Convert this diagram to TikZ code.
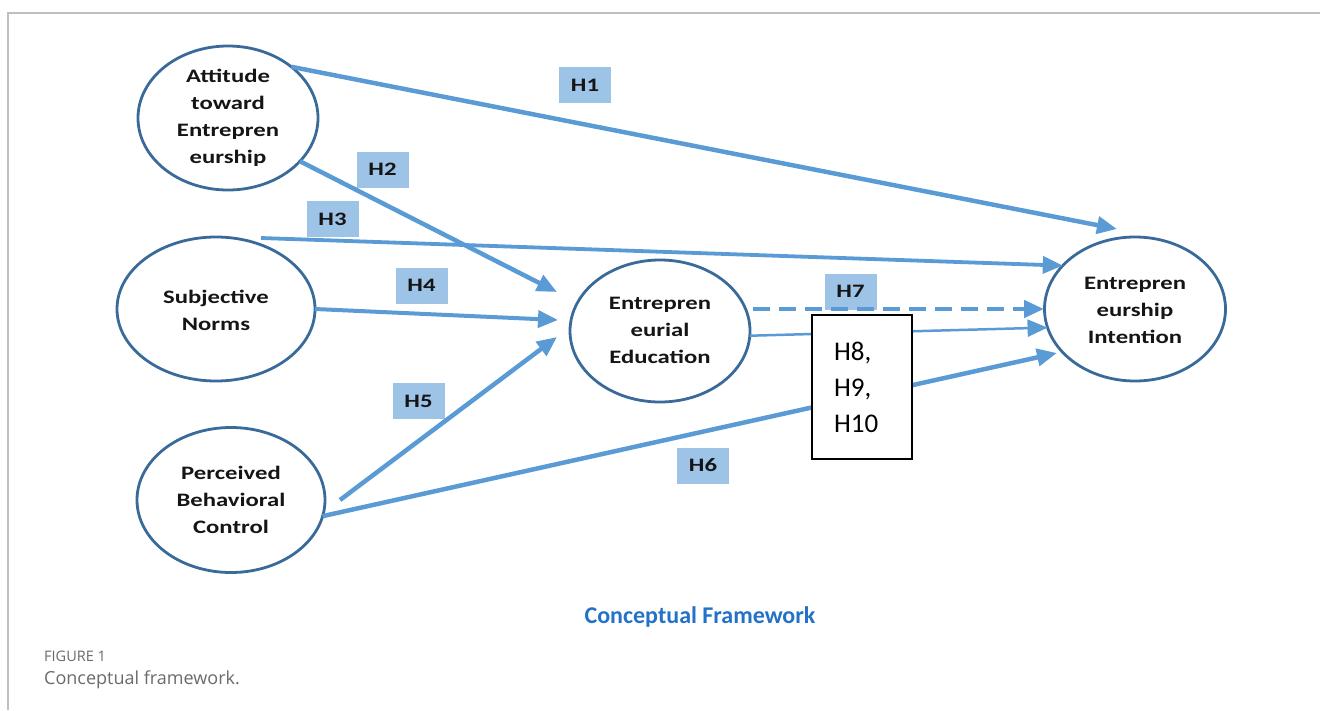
\documentclass[tikz,border=0pt]{standalone}
\usepackage{fontspec}
\usetikzlibrary{arrows.meta,shapes.geometric}
\newfontfamily\calS[FakeStretch=1.3]{Carlito}
\newfontfamily\calN{Carlito}
\newfontfamily\capfont{Open Sans}
\definecolor{arrc}{HTML}{5B9BD5}
\definecolor{labc}{HTML}{9DC3E6}
\definecolor{ellc}{HTML}{3A6A99}
\definecolor{txt}{HTML}{151515}
\definecolor{titc}{RGB}{36,114,200}
\definecolor{framec}{HTML}{BFBFBF}
\definecolor{capc}{HTML}{6A6A6A}
\tikzset{
  bub/.style={ellipse, draw=ellc, line width=2.8pt, inner sep=0pt, outer sep=0pt},
  btxt/.style={font=\calS\bfseries\fontsize{19}{27}\selectfont, align=center, text=txt, inner sep=0pt},
  hlab/.style={fill=labc, minimum width=52pt, minimum height=36pt, inner sep=0pt,
    font=\calS\bfseries\fontsize{19}{19}\selectfont, text=txt},
  arr/.style={draw=arrc, line width=4.5pt, -{Triangle[length=20pt,width=17pt]}},
  hbox/.style={draw=black, line width=1.2pt, fill=white, text width=56pt, inner xsep=22pt,
    minimum height=144pt, align=left, font=\calN\fontsize{27}{36}\selectfont, text=black}
}
\begin{document}
\begin{tikzpicture}[x=1pt,y=-1pt]
\useasboundingbox (0,0) rectangle (1320,710);
\draw[framec, line width=1.5pt] (8,710) -- (8,13) -- (1320,13);

% ellipses
\node[bub, minimum width=180pt, minimum height=144pt] (att) at (228,118) {};
\node[bub, minimum width=198pt, minimum height=144pt] (norms) at (216,309) {};
\node[bub, minimum width=188pt, minimum height=145pt] (pbc) at (231,500) {};
\node[bub, minimum width=180pt, minimum height=142pt] (edu) at (660,331) {};
\node[bub, minimum width=181pt, minimum height=144pt] (int) at (1135,309) {};

\node[btxt] (attT) at (228,118) {Attitude\\toward\\Entrepren\\eurship};
\node[btxt] (normsT) at (216,310) {Subjective\\Norms};
\node[btxt] (pbcT) at (231,500) {Perceived\\Behavioral\\Control};
\node[btxt] (eduT) at (660,330) {Entrepren\\eurial\\Education};
\node[btxt] (intT) at (1135,310) {Entrepren\\eurship\\Intention};

% labels
\node[hlab] (l1) at (585,85) {H1};
\node[hlab] (l2) at (382.5,169.5) {H2};
\node[hlab] (l3) at (332.5,219) {H3};
\node[hlab] (l4) at (421.5,285.5) {H4};
\node[hlab] (l5) at (418.5,401) {H5};
\node[hlab] (l6) at (703,465.5) {H6};
\node[hlab] (l7) at (850.5,291.5) {H7};

% free ends
\coordinate (e1) at (1117,229);
\coordinate (e2) at (557,292);
\coordinate (s3) at (261,238);
\coordinate (e4) at (558,320);
\coordinate (s5) at (340,500);
\coordinate (e5) at (557,337);
\coordinate (e6) at (1057,353);
\coordinate (s7) at (753,309);
\coordinate (e7) at (1044,309);

% arrows
\draw[arr] (att.39) -- (e1);
\draw[arr] (att.-31) -- (e2);
\draw[arr, line width=3.8pt] (s3) -- (int.149);
\draw[arr, line width=4pt] (norms.east) -- (e4);
\draw[arr] (s5) -- (e5);
\draw[arr] (pbc.-10) -- (e6);
\draw[arr, dash pattern=on 17pt off 9pt] (s7) -- (e7);
\draw[arr, line width=2.5pt] (edu.-3) -- (int.192);

% H8-H10 box
\node[hbox] (hb) at (862,387) {H8,\\H9,\\H10};

% title and caption
\node[font=\calN\bfseries\fontsize{24}{24}\selectfont, text=titc] (title) at (700,617) {Conceptual Framework};
\node[anchor=west, inner sep=0pt, font=\capfont\fontsize{14.5}{14.5}\selectfont, text=capc] (fig) at (44,656) {FIGURE 1};
\node[anchor=west, inner sep=0pt, font=\capfont\fontsize{18}{18}\selectfont, text=capc] (cap) at (44,680) {Conceptual framework.};
\end{tikzpicture}
\end{document}
